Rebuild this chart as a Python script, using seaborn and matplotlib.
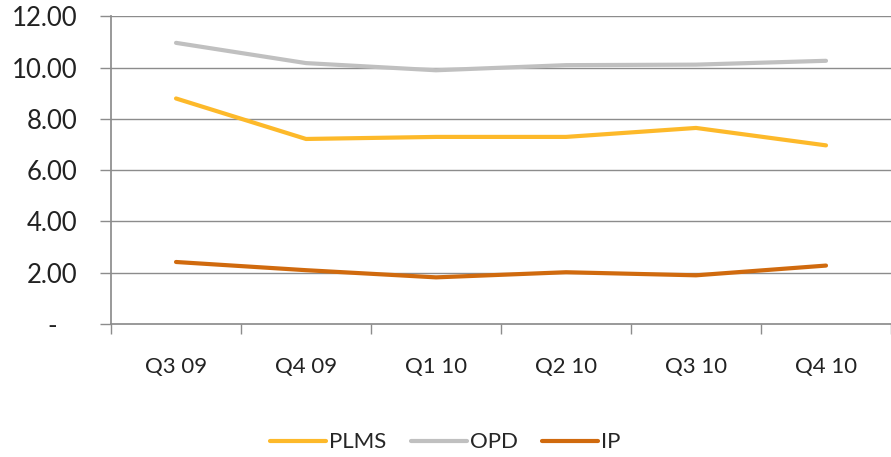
import matplotlib
matplotlib.use("Agg")
import matplotlib.pyplot as plt
import numpy as np
import pandas as pd
import seaborn as sns

quarters = ["Q3 09", "Q4 09", "Q1 10", "Q2 10", "Q3 10", "Q4 10"]
plms = [8.80, 7.22, 7.30, 7.30, 7.65, 6.97]
opd = [10.97, 10.18, 9.90, 10.10, 10.12, 10.27]
ip = [2.42, 2.10, 1.82, 2.02, 1.90, 2.28]

series_names = ["PLMS", "OPD", "IP"]
colors = ["#FDB92A", "#C0C0C0", "#D06A0E"]
y_ticks = [0, 2, 4, 6, 8, 10, 12]
y_labels = ["-   ", "2.00", "4.00", "6.00", "8.00", "10.00", "12.00"]

df = pd.DataFrame({"quarter": quarters, "PLMS": plms, "OPD": opd, "IP": ip})
long = df.melt(id_vars="quarter", var_name="series", value_name="value")

sns.set_theme(style="white")
plt.rcParams["font.family"] = ["Lato", "DejaVu Sans"]

fig = plt.figure(figsize=(8.91, 4.57), dpi=100)
ax = fig.add_axes([0.1246, 0.291, 0.8754, 0.673])

sns.lineplot(
    data=long, x="quarter", y="value", hue="series",
    hue_order=series_names, palette=colors, sort=False,
    linewidth=3.0, ax=ax, legend=True,
)

grid_c = "#8C8C8C"
ax.set_ylim(0, 12)
ax.set_xlim(-0.5, len(quarters) - 0.5)
ax.set_yticks(y_ticks)
ax.set_yticklabels(y_labels, fontsize=18.5, color="#222222")
ax.tick_params(axis="y", length=8, width=1, color=grid_c, pad=16, left=True)
for y in y_ticks[1:]:
    ax.axhline(y, color=grid_c, lw=1, zorder=0)

# category labels at centres, tick marks at boundaries
ax.set_xticks(np.arange(len(quarters) + 1) - 0.5)
ax.set_xticklabels([])
ax.set_xticks(np.arange(len(quarters)), minor=True)
ax.set_xticklabels(quarters, minor=True, fontsize=16, color="#222222")
ax.tick_params(axis="x", which="major", length=7, width=1, color=grid_c, bottom=True)
ax.tick_params(axis="x", which="minor", length=0, pad=24)
ax.set_xlabel("")
ax.set_ylabel("")

for side in ["top", "right"]:
    ax.spines[side].set_visible(False)
ax.spines["left"].set_color(grid_c)
ax.spines["bottom"].set_color(grid_c)

handles, labels = ax.get_legend_handles_labels()
ax.legend_.remove()
fig.legend(
    handles, labels, loc="center", bbox_to_anchor=(0.5, 0.032), ncol=3,
    frameon=False, fontsize=16, handlelength=2.5, handletextpad=0.15,
    columnspacing=1.1,
)

fig.savefig("out.png", dpi=100)
